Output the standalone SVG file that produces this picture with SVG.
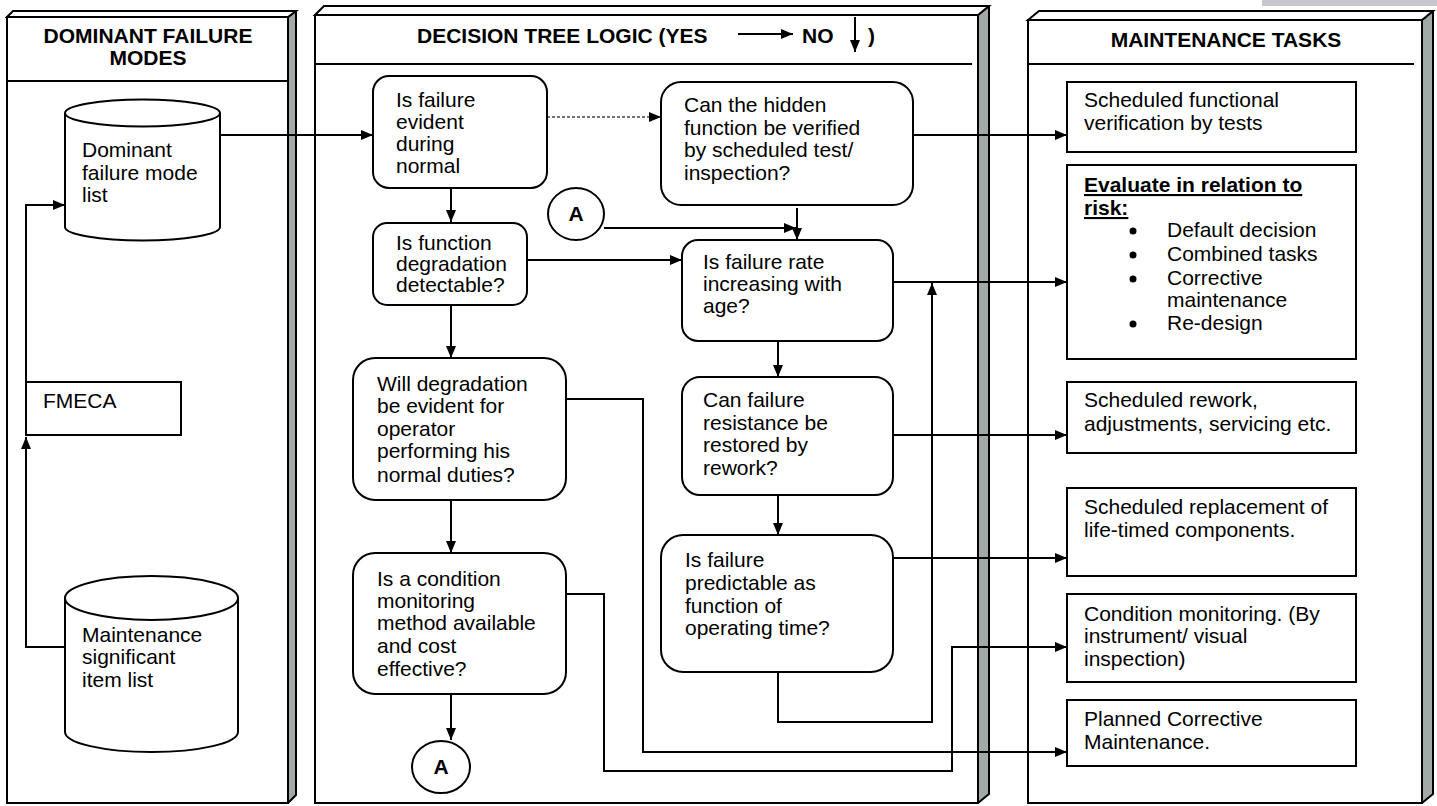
<svg xmlns="http://www.w3.org/2000/svg" width="1437" height="806" viewBox="0 0 1437 806">
<style>
.pf{fill:#fff;stroke:#000;stroke-width:2}
.ps{fill:#a2a9a9;stroke:#000;stroke-width:2;stroke-linejoin:round}
.hl{stroke:#000;stroke-width:2;fill:none}
.hd{font-family:"Liberation Sans",Arial,sans-serif;font-size:21px;font-weight:bold;fill:#000}
.t{font-family:"Liberation Sans",Arial,sans-serif;font-size:21px;fill:#000}
.tb{font-family:"Liberation Sans",Arial,sans-serif;font-size:21px;font-weight:bold;text-decoration:underline;fill:#000}
.bx{fill:#fff;stroke:#000;stroke-width:2}
.c{fill:none;stroke:#000;stroke-width:2}
.cd{fill:none;stroke:#444;stroke-width:1.6;stroke-dasharray:3 2}
</style>
<defs>
<marker id="ah" markerUnits="userSpaceOnUse" markerWidth="12" markerHeight="10" refX="12" refY="5" orient="auto">
<path d="M0,0 L12,5 L0,10 Z" fill="#000"/>
</marker>
</defs>
<rect x="1262" y="0" width="175" height="6" fill="#c5c7cc"/>
<g id="panel-dominant">
<polygon class="ps" points="288,17 296,11 296,795 288,803"/>
<polygon class="pf" points="7,17 13,11 296,11 288,17"/>
<rect class="pf" x="7" y="17" width="281" height="786"/>
<line class="hl" x1="7" y1="81" x2="288" y2="81"/>
<text class="hd" x="148" y="43" text-anchor="middle">DOMINANT FAILURE</text>
<text class="hd" x="148" y="65" text-anchor="middle">MODES</text>
</g>
<g id="panel-decision">
<polygon class="ps" points="978,15 989,6 989,794 978,803"/>
<polygon class="pf" points="315,15 324,6 989,6 978,15"/>
<rect class="pf" x="315" y="15" width="663" height="788"/>
<line class="hl" x1="315" y1="64" x2="972" y2="64"/>
<text class="hd" x="417" y="43">DECISION TREE LOGIC (YES</text>
<line class="c" x1="738" y1="34" x2="793" y2="34" marker-end="url(#ah)"/>
<text class="hd" x="802" y="43">NO</text>
<line class="c" x1="855" y1="17" x2="855" y2="52" marker-end="url(#ah)"/>
<text class="hd" x="868" y="43">)</text>
</g>
<g id="panel-tasks">
<polygon class="ps" points="1422,20 1433,11 1433,794 1422,803"/>
<polygon class="pf" points="1028,20 1039,11 1433,11 1422,20"/>
<rect class="pf" x="1028" y="20" width="394" height="783"/>
<line class="hl" x1="1028" y1="64" x2="1414" y2="64"/>
<text class="hd" x="1226" y="47" text-anchor="middle">MAINTENANCE TASKS</text>
</g>
<g id="connectors">
<line class="c" x1="220" y1="135" x2="373" y2="135" marker-end="url(#ah)"/>
<polyline class="c" points="65,647 26,647 26,437" marker-end="url(#ah)"/>
<polyline class="c" points="26,382 26,205 65,205" marker-end="url(#ah)"/>
<line class="cd" x1="547" y1="117" x2="661" y2="117" marker-end="url(#ah)"/>
<line class="c" x1="451" y1="188" x2="451" y2="222" marker-end="url(#ah)"/>
<line class="c" x1="913" y1="135" x2="1067" y2="135" marker-end="url(#ah)"/>
<line class="c" x1="797" y1="208" x2="797" y2="240" marker-end="url(#ah)"/>
<line class="c" x1="604" y1="228" x2="796" y2="228" marker-end="url(#ah)"/>
<line class="c" x1="527" y1="260" x2="682" y2="260" marker-end="url(#ah)"/>
<line class="c" x1="451" y1="305" x2="451" y2="358" marker-end="url(#ah)"/>
<line class="c" x1="893" y1="282" x2="1067" y2="282" marker-end="url(#ah)"/>
<line class="c" x1="778" y1="341" x2="778" y2="377" marker-end="url(#ah)"/>
<line class="c" x1="893" y1="435" x2="1067" y2="435" marker-end="url(#ah)"/>
<line class="c" x1="778" y1="495" x2="778" y2="535" marker-end="url(#ah)"/>
<line class="c" x1="893" y1="558" x2="1067" y2="558" marker-end="url(#ah)"/>
<polyline class="c" points="778,672 778,722 932,722 932,283" marker-end="url(#ah)"/>
<polyline class="c" points="566,399 643,399 643,752 1067,752" marker-end="url(#ah)"/>
<line class="c" x1="451" y1="500" x2="451" y2="553" marker-end="url(#ah)"/>
<line class="c" x1="451" y1="694" x2="451" y2="740" marker-end="url(#ah)"/>
<polyline class="c" points="566,594 604,594 604,771 952,771 952,647 1067,647" marker-end="url(#ah)"/>
</g>
<g id="dominant-list">
<path class="bx" d="M65,113 A77.5,13.5 0 0 1 220,113 L220,227 A77.5,13.5 0 0 1 65,227 Z"/>
<path class="c" d="M65,113 A77.5,13.5 0 0 0 220,113"/>
<text class="t" x="82" y="157">Dominant</text>
<text class="t" x="82" y="180">failure mode</text>
<text class="t" x="82" y="202">list</text>
</g>
<g id="fmeca">
<rect class="bx" x="26" y="382" width="155" height="53"/>
<text class="t" x="43" y="408">FMECA</text>
</g>
<g id="msi-list">
<path class="bx" d="M65,598 A86.5,22 0 0 1 238,598 L238,732 A86.5,20 0 0 1 65,732 Z"/>
<path class="c" d="M65,598 A86.5,22 0 0 0 238,598"/>
<text class="t" x="82" y="642">Maintenance</text>
<text class="t" x="82" y="664">significant</text>
<text class="t" x="82" y="687">item list</text>
</g>
<g id="q-evident">
<rect class="bx" x="373" y="76" width="174" height="112" rx="16"/>
<text class="t" x="396" y="107">Is failure</text>
<text class="t" x="396" y="129">evident</text>
<text class="t" x="396" y="151">during</text>
<text class="t" x="396" y="173">normal</text>
</g>
<g id="q-hidden">
<rect class="bx" x="661" y="82" width="252" height="123" rx="20"/>
<text class="t" x="684" y="112">Can the hidden</text>
<text class="t" x="684" y="135">function be verified</text>
<text class="t" x="684" y="157">by scheduled test/</text>
<text class="t" x="684" y="180">inspection?</text>
</g>
<g id="connector-a-top">
<ellipse class="bx" cx="576" cy="214" rx="28" ry="26"/>
<text class="hd" x="576" y="221" text-anchor="middle">A</text>
</g>
<g id="q-degradation">
<rect class="bx" x="373" y="223" width="154" height="82" rx="14"/>
<text class="t" x="396" y="250">Is function</text>
<text class="t" x="396" y="271">degradation</text>
<text class="t" x="396" y="292">detectable?</text>
</g>
<g id="q-rate">
<rect class="bx" x="682" y="240" width="211" height="101" rx="16"/>
<text class="t" x="703" y="269">Is failure rate</text>
<text class="t" x="703" y="291">increasing with</text>
<text class="t" x="703" y="313">age?</text>
</g>
<g id="q-rework">
<rect class="bx" x="682" y="377" width="211" height="118" rx="18"/>
<text class="t" x="703" y="407">Can failure</text>
<text class="t" x="703" y="430">resistance be</text>
<text class="t" x="703" y="452">restored by</text>
<text class="t" x="703" y="475">rework?</text>
</g>
<g id="q-predictable">
<rect class="bx" x="661" y="535" width="232" height="137" rx="22"/>
<text class="t" x="685" y="567">Is failure</text>
<text class="t" x="685" y="590">predictable as</text>
<text class="t" x="685" y="613">function of</text>
<text class="t" x="685" y="635">operating time?</text>
</g>
<g id="q-operator">
<rect class="bx" x="353" y="358" width="213" height="142" rx="22"/>
<text class="t" x="377" y="391">Will degradation</text>
<text class="t" x="377" y="413">be evident for</text>
<text class="t" x="377" y="436">operator</text>
<text class="t" x="377" y="458">performing his</text>
<text class="t" x="377" y="482">normal duties?</text>
</g>
<g id="q-condition">
<rect class="bx" x="353" y="553" width="213" height="141" rx="22"/>
<text class="t" x="377" y="586">Is a condition</text>
<text class="t" x="377" y="608">monitoring</text>
<text class="t" x="377" y="630">method available</text>
<text class="t" x="377" y="653">and cost</text>
<text class="t" x="377" y="676">effective?</text>
</g>
<g id="connector-a-bottom">
<ellipse class="bx" cx="441" cy="767" rx="29" ry="26"/>
<text class="hd" x="441" y="774" text-anchor="middle">A</text>
</g>
<g id="task-functional">
<rect class="bx" x="1067" y="82" width="289" height="70"/>
<text class="t" x="1084" y="107">Scheduled functional</text>
<text class="t" x="1084" y="130">verification by tests</text>
</g>
<g id="task-evaluate">
<rect class="bx" x="1067" y="165" width="289" height="194"/>
<text class="tb" x="1084" y="192">Evaluate in relation to</text>
<text class="tb" x="1084" y="215">risk:</text>
<circle cx="1133" cy="231" r="3.5"/>
<text class="t" x="1167" y="237">Default decision</text>
<circle cx="1133" cy="255" r="3.5"/>
<text class="t" x="1167" y="261">Combined tasks</text>
<circle cx="1133" cy="279" r="3.5"/>
<text class="t" x="1167" y="285">Corrective</text>
<text class="t" x="1167" y="307">maintenance</text>
<circle cx="1133" cy="324" r="3.5"/>
<text class="t" x="1167" y="330">Re-design</text>
</g>
<g id="task-rework">
<rect class="bx" x="1067" y="382" width="289" height="71"/>
<text class="t" x="1084" y="407">Scheduled rework,</text>
<text class="t" x="1084" y="431">adjustments, servicing etc.</text>
</g>
<g id="task-replacement">
<rect class="bx" x="1067" y="488" width="289" height="88"/>
<text class="t" x="1084" y="514">Scheduled replacement of</text>
<text class="t" x="1084" y="537">life-timed components.</text>
</g>
<g id="task-condition">
<rect class="bx" x="1067" y="594" width="289" height="88"/>
<text class="t" x="1084" y="621">Condition monitoring. (By</text>
<text class="t" x="1084" y="643">instrument/ visual</text>
<text class="t" x="1084" y="666">inspection)</text>
</g>
<g id="task-corrective">
<rect class="bx" x="1067" y="700" width="289" height="66"/>
<text class="t" x="1084" y="726">Planned Corrective</text>
<text class="t" x="1084" y="749">Maintenance.</text>
</g>
</svg>
